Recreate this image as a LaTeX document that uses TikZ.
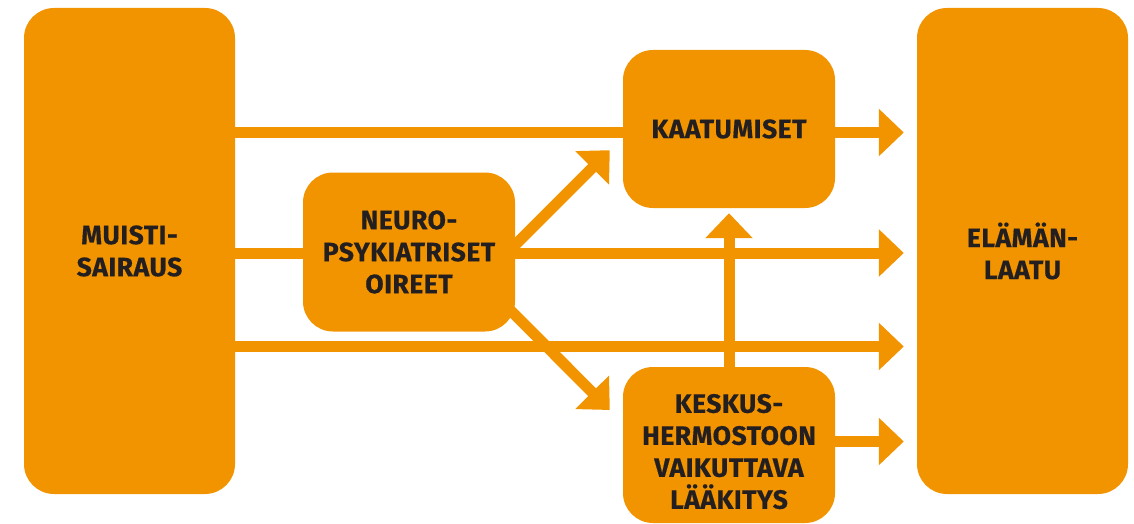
\documentclass[tikz,border=0pt]{standalone}
\usepackage{fontspec}
\setmainfont{Fira Sans}[BoldFeatures={FakeBold=0.5,LetterSpace=2}]
\usetikzlibrary{arrows.meta,positioning}
\definecolor{oranssi}{RGB}{242,148,0}
\definecolor{teksti}{RGB}{35,31,32}

\begin{document}
\begin{tikzpicture}[
    x=1pt, y=-1pt,
    every node/.style={fill=oranssi, rounded corners=30pt, align=center, text=teksti, font=\fontsize{26.5}{32}\selectfont\bfseries, inner sep=0pt},
    iso/.style={minimum width=211pt, minimum height=486pt},
    pieni/.style={minimum width=212pt, minimum height=158pt},
    viiva/.style={draw=oranssi, line width=11pt},
    nuoli/.style={viiva, -{Triangle[width=46pt, length=25pt]}}
]
\useasboundingbox (0,0) rectangle (1134,524);

\node[iso] (muisti) at (129.5,251) {MUISTI-\\SAIRAUS};
\node[iso] (elama) at (1022.5,251) {ELÄMÄN-\\LAATU};
\node[pieni] (kaatumiset) at (729,129) {KAATUMISET};
\node[pieni, minimum height=159pt] (neuro) at (409,252) {NEURO-\\PSYKIATRISET\\OIREET};
\node[pieni, minimum height=156pt] (laakitys) at (729,445) {\rule{0pt}{32pt}KESKUS-\\HERMOSTOON\\VAIKUTTAVA\\LÄÄKITYS};

% suorat yhteydet
\draw[viiva] ([yshift=118.5pt]muisti.east) -- ([yshift=-3.5pt]kaatumiset.west);
\draw[nuoli] ([yshift=-3.5pt]kaatumiset.east) -- ([xshift=-13pt,yshift=118.5pt]elama.west);
\draw[viiva] ([yshift=-2pt]muisti.east) -- ([yshift=-1pt]neuro.west);
\draw[nuoli] ([yshift=-1pt]neuro.east) -- ([xshift=-13pt,yshift=-2pt]elama.west);
\draw[nuoli] ([yshift=-95.5pt]muisti.east) -- ([xshift=-13pt,yshift=-95.5pt]elama.west);
\draw[nuoli] ([yshift=3.5pt]laakitys.east) -- ([xshift=-13pt,yshift=-190.5pt]elama.west);

% vinot ja pystynuoli
\draw[nuoli] ([xshift=-5pt,yshift=2pt]neuro.east) -- ([xshift=-13pt,yshift=58pt]kaatumiset.south west);
\draw[nuoli] ([xshift=-5pt,yshift=-58pt]neuro.east) -- ([xshift=-13pt,yshift=35pt]laakitys.west);
\draw[nuoli] (laakitys.north) -- ([yshift=-5pt]kaatumiset.south);

\end{tikzpicture}
\end{document}
